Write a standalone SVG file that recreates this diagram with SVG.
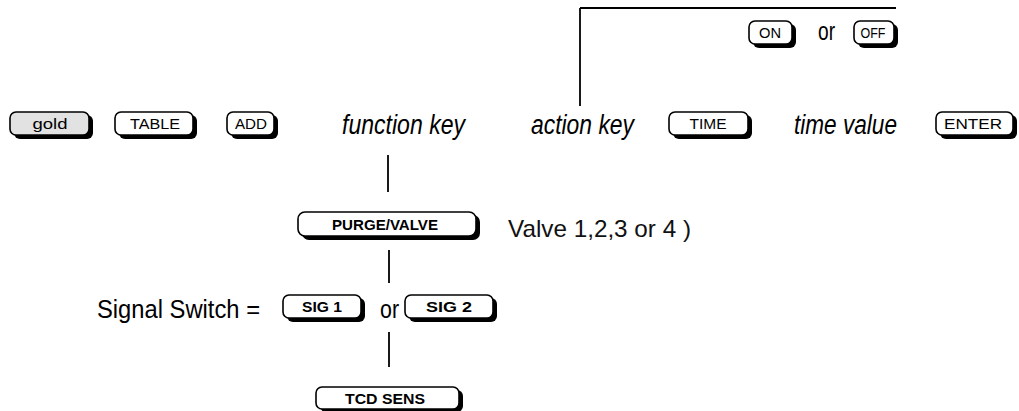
<svg xmlns="http://www.w3.org/2000/svg" width="1019" height="411" viewBox="0 0 1019 411">
<style>
.sh{fill:#000}
.fr{fill:#fff;stroke:#000;stroke-width:1.6}
.gold{fill:#e2e2e2;stroke:#000;stroke-width:1.6}
.kl{font-family:"Liberation Sans",Arial,sans-serif;font-size:15px;fill:#000;text-anchor:middle}
.kb{font-weight:bold}
.it{font-family:"Liberation Sans",Arial,sans-serif;font-style:italic;font-size:27px;fill:#000}
.tx{font-family:"Liberation Sans",Arial,sans-serif;font-size:26px;fill:#000}
.vt{font-family:"Liberation Sans",Arial,sans-serif;font-size:24px;fill:#111}
.ln{stroke:#000;stroke-width:1.8;fill:none}
</style>
<g id="connectors">
<path class="ln" d="M580 8 H896"/>
<path class="ln" d="M580 8 V106"/>
<path class="ln" d="M388 155 V192"/>
<path class="ln" d="M389 250 V283"/>
<path class="ln" d="M389 332 V367"/>
</g>
<g id="key-on"><rect class="sh" x="753" y="24" width="43" height="24" rx="6"/><rect class="fr" x="749" y="21" width="43" height="23" rx="6"/><text class="kl" x="770" y="38" textLength="22" lengthAdjust="spacingAndGlyphs">ON</text></g>
<g id="or-top"><text class="tx" x="818" y="40" textLength="17" lengthAdjust="spacingAndGlyphs">or</text></g>
<g id="key-off"><rect class="sh" x="858" y="24" width="40" height="24" rx="6"/><rect class="fr" x="854" y="21" width="40" height="23" rx="6"/><text class="kl" x="873" y="38" textLength="25" lengthAdjust="spacingAndGlyphs">OFF</text></g>
<g id="key-gold"><rect class="sh" x="14" y="115" width="79" height="24" rx="6"/><rect class="gold" x="10" y="112" width="79" height="23" rx="6"/><text class="kl" x="50" y="129" textLength="35" lengthAdjust="spacingAndGlyphs">gold</text></g>
<g id="key-table"><rect class="sh" x="119" y="115" width="78" height="24" rx="6"/><rect class="fr" x="115" y="112" width="78" height="23" rx="6"/><text class="kl" x="155" y="129" textLength="50" lengthAdjust="spacingAndGlyphs">TABLE</text></g>
<g id="key-add"><rect class="sh" x="231" y="115" width="47" height="24" rx="6"/><rect class="fr" x="227" y="112" width="47" height="23" rx="6"/><text class="kl" x="251" y="129" textLength="32" lengthAdjust="spacingAndGlyphs">ADD</text></g>
<g id="function-key"><text class="it" x="342" y="134" textLength="123" lengthAdjust="spacingAndGlyphs">function key</text></g>
<g id="action-key"><text class="it" x="531" y="134" textLength="103" lengthAdjust="spacingAndGlyphs">action key</text></g>
<g id="key-time"><rect class="sh" x="673" y="115" width="79" height="24" rx="6"/><rect class="fr" x="669" y="112" width="79" height="23" rx="6"/><text class="kl" x="708" y="129" textLength="37" lengthAdjust="spacingAndGlyphs">TIME</text></g>
<g id="time-value"><text class="it" x="794" y="134" textLength="103" lengthAdjust="spacingAndGlyphs">time value</text></g>
<g id="key-enter"><rect class="sh" x="940" y="115" width="77" height="24" rx="6"/><rect class="fr" x="936" y="112" width="77" height="23" rx="6"/><text class="kl" x="973" y="129" textLength="58" lengthAdjust="spacingAndGlyphs">ENTER</text></g>
<g id="key-purge"><rect class="sh" x="302" y="215" width="178" height="25" rx="7"/><rect class="fr" x="298" y="212" width="178" height="24" rx="7"/><text class="kl kb" x="385" y="230" textLength="106" lengthAdjust="spacingAndGlyphs">PURGE/VALVE</text></g>
<g id="valve-note"><text class="vt" x="508" y="237" textLength="183" lengthAdjust="spacingAndGlyphs">Valve 1,2,3 or 4 )</text></g>
<g id="signal-switch"><text class="tx" x="97" y="318" textLength="163" lengthAdjust="spacingAndGlyphs">Signal Switch =</text></g>
<g id="key-sig1"><rect class="sh" x="287" y="298" width="78" height="24" rx="6"/><rect class="fr" x="283" y="295" width="78" height="23" rx="6"/><text class="kl kb" x="322" y="312" textLength="40" lengthAdjust="spacingAndGlyphs">SIG 1</text></g>
<g id="or-mid"><text class="tx" x="380" y="318" textLength="19" lengthAdjust="spacingAndGlyphs">or</text></g>
<g id="key-sig2"><rect class="sh" x="409" y="298" width="88" height="24" rx="6"/><rect class="fr" x="405" y="295" width="88" height="23" rx="6"/><text class="kl kb" x="449" y="312" textLength="46" lengthAdjust="spacingAndGlyphs">SIG 2</text></g>
<g id="key-tcd"><rect class="sh" x="320" y="390" width="143" height="22" rx="6"/><rect class="fr" x="316" y="387" width="143" height="22" rx="6"/><text class="kl kb" x="385" y="404" textLength="80" lengthAdjust="spacingAndGlyphs">TCD SENS</text></g>
</svg>
